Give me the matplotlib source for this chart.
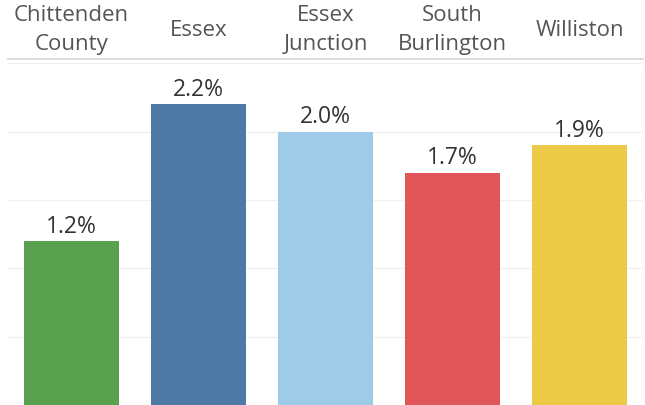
import matplotlib
matplotlib.use("Agg")
import matplotlib.pyplot as plt
import matplotlib.transforms as mtransforms

# dados
regioes = ["Chittenden\nCounty", "Essex", "Essex\nJunction", "South\nBurlington", "Williston"]
valores = [1.2, 2.2, 2.0, 1.7, 1.9]
cores = ["#59A14F", "#4E79A7", "#A0CBE8", "#E15759", "#EDC948"]
grade = [0.5, 1.0, 1.5, 2.0, 2.5]

plt.rcParams["font.family"] = ["Open Sans", "DejaVu Sans"]

fig = plt.figure(figsize=(6.45, 4.06), dpi=100)
topo = (406 - 60) / 406
ax = fig.add_axes([8 / 645, 0, 635 / 645, topo])

x = list(range(len(regioes)))
ax.bar(x, valores, width=0.75, color=cores, zorder=2)
for g in grade:
    ax.axhline(g, color="#f0f0f0", linewidth=1, zorder=1)

for xi, v in zip(x, valores):
    ax.text(xi, v + 0.025, f"{v:.1f}%", ha="center", va="bottom",
            fontsize=16.5, color="#333333")

trans = mtransforms.blended_transform_factory(ax.transData, ax.transAxes)
for xi, nome in zip(x, regioes):
    ax.text(xi, 1 + 30 / 346, nome, transform=trans, ha="center", va="center",
            fontsize=16, color="#555555", linespacing=1.5, clip_on=False)

ax.set_xlim(-0.5, len(regioes) - 0.5)
ax.set_ylim(0, 2.0 + (133 - 60) / 137)
ax.set_xticks([])
ax.set_yticks([])
for s in ["left", "right", "bottom"]:
    ax.spines[s].set_visible(False)
ax.spines["top"].set_color("#d4d4d4")
ax.spines["top"].set_linewidth(1.2)

fig.savefig("out.png", dpi=100)
